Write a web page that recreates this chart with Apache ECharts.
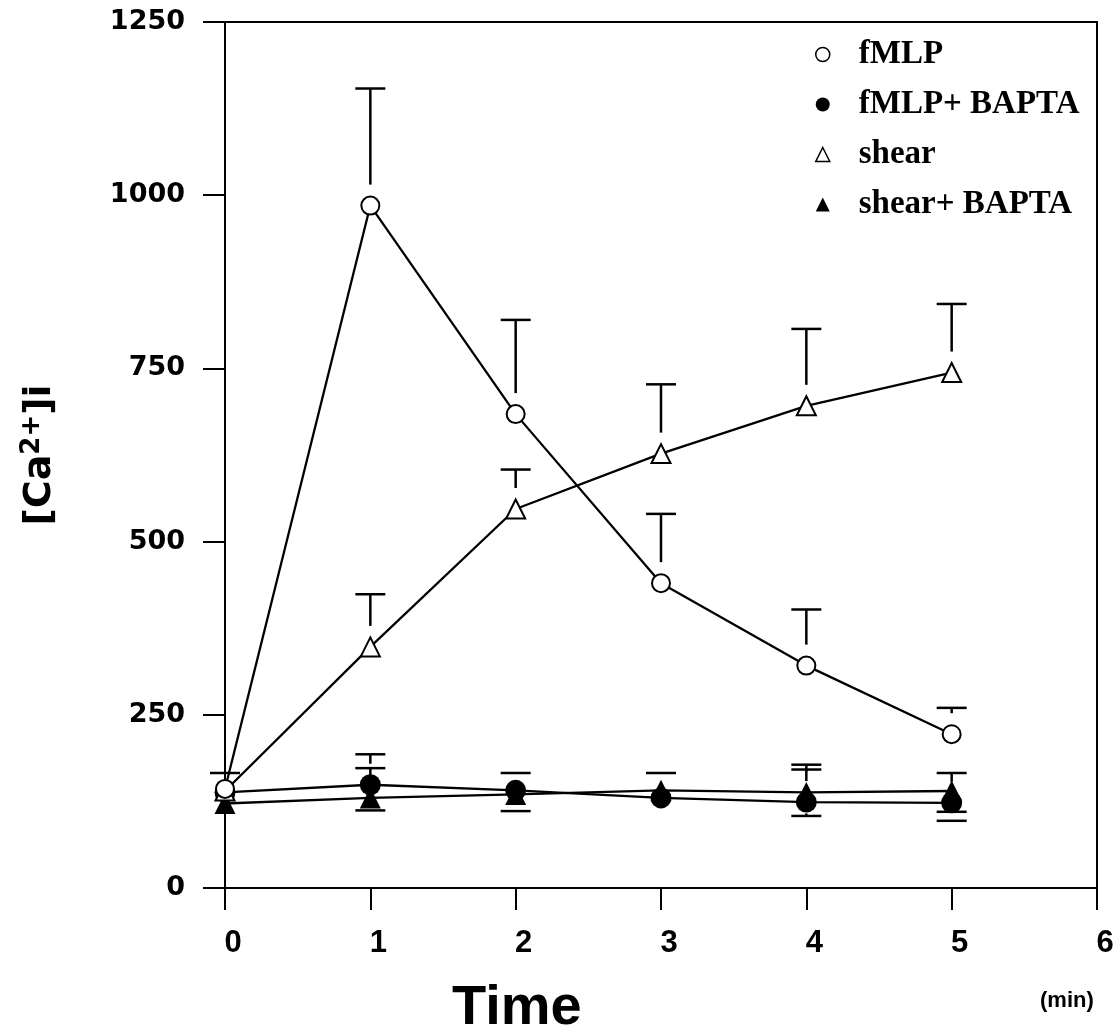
<!DOCTYPE html>
<html>
<head>
<meta charset="utf-8">
<script src="https://cdn.jsdelivr.net/npm/echarts@6/dist/echarts.min.js"></script>
<style>html,body{margin:0;padding:0;background:#fff}#chart{width:1120px;height:1033px}</style>
</head>
<body>
<div id="chart"></div>
<script>
// ---- data ----
const time = [0, 1, 2, 3, 4, 5];
const xTicks = [0, 1, 2, 3, 4, 5, 6];
const yTicks = [0, 250, 500, 750, 1000, 1250];
const fmlp = [143, 985, 684, 440, 321, 222];
const fmlpErrTop = [166, 1154, 820, 540, 402, 260];
const fmlpBapta = [138, 149, 141, 130, 124, 123];
const fmlpBaptaErrTop = [null, 193, 166, null, 178, 166];
const fmlpBaptaErrBot = [null, null, null, null, null, 97];
const shear = [140, 348, 547, 627, 696, 744];
const shearErrTop = [null, 424, 604, 727, 807, 843];
const shearBapta = [122, 130, 135, 141, 138, 140];
const shearBaptaErrTop = [null, 173, null, 166, 171, null];
const shearBaptaErrBot = [null, 112, 111, null, 104, 110];
const seriesNames = ['fMLP', 'fMLP+ BAPTA', 'shear', 'shear+ BAPTA'];

// ---- build ----
function pairs(vals) { return time.map((t, i) => [t, vals[i]]); }
function caps(vals, ...capArrs) {
  const out = [];
  capArrs.forEach(arr => arr.forEach((c, i) => { if (c != null) out.push([time[i], vals[i], c]); }));
  return out;
}
const errData = [].concat(
  caps(fmlp, fmlpErrTop),
  caps(fmlpBapta, fmlpBaptaErrTop, fmlpBaptaErrBot),
  caps(shear, shearErrTop),
  caps(shearBapta, shearBaptaErrTop, shearBaptaErrBot)
);

const chart = echarts.init(document.getElementById('chart'), null, {renderer: 'canvas'});
const boldSans = 'DejaVu Sans';
const sans = '"Liberation Sans", Arial, sans-serif';
const lineStyle = {color: '#000', width: 2.3};

const option = {
  backgroundColor: '#fff',
  animation: false,
  grid: {left: 225, right: 23, top: 22, bottom: 145, show: true, borderColor: '#000', borderWidth: 2, backgroundColor: 'transparent'},
  xAxis: {
    type: 'value', min: 0, max: 6, interval: 1,
    axisLine: {show: true, onZero: false, lineStyle: {color: '#000', width: 2}},
    axisTick: {show: true, length: 22, lineStyle: {color: '#000', width: 2}},
    splitLine: {show: false},
    axisLabel: {margin: 40, color: '#000', fontFamily: sans, fontWeight: 'bold', fontSize: 31,
      padding: [0, 0, 0, 16],
      formatter: v => xTicks.includes(v) ? String(v) : ''}
  },
  yAxis: {
    type: 'value', min: 0, max: 1250, interval: 250,
    axisLine: {show: true, onZero: false, lineStyle: {color: '#000', width: 2}},
    axisTick: {show: true, length: 22, lineStyle: {color: '#000', width: 2}},
    splitLine: {show: false},
    axisLabel: {margin: 40, color: '#000', fontFamily: boldSans, fontWeight: 'bold', fontSize: 27,
      formatter: v => yTicks.includes(v) ? String(v) : ''},
    name: '[Ca{sup|2+}]i',
    nameLocation: 'middle', nameRotate: 90, nameGap: 164,
    nameTextStyle: {color: '#000', fontFamily: boldSans, fontWeight: 'bold', fontSize: 38,
      rich: {sup: {fontFamily: boldSans, fontWeight: 'bold', fontSize: 26, verticalAlign: 'top', padding: [0, 0, 16, 0], color: '#000'}}}
  },
  legend: {
    orient: 'vertical', left: 810, top: 33, itemGap: 17, itemWidth: 14, itemHeight: 14,
    textStyle: {fontFamily: 'Liberation Serif', fontWeight: 'bold', fontSize: 33, color: '#000', padding: [0, 0, 0, 24]},
    data: [
      {name: seriesNames[0], icon: 'circle', itemStyle: {color: '#fff', borderColor: '#000', borderWidth: 1.5}},
      {name: seriesNames[1], icon: 'circle', itemStyle: {color: '#000', borderColor: '#000', borderWidth: 0}},
      {name: seriesNames[2], icon: 'triangle', itemStyle: {color: '#fff', borderColor: '#000', borderWidth: 1.5}},
      {name: seriesNames[3], icon: 'triangle', itemStyle: {color: '#000', borderColor: '#000', borderWidth: 0}}
    ]
  },
  graphic: [
    {type: 'text', left: 452, top: 981, style: {text: 'Time', fontFamily: sans, fontWeight: 'bold', fontSize: 56, fill: '#000'}},
    {type: 'text', left: 1040, top: 990, style: {text: '(min)', fontFamily: sans, fontWeight: 'bold', fontSize: 22, fill: '#000'}}
  ],
  series: [
    {
      type: 'custom', name: 'err', silent: true, z: 1,
      data: errData,
      encode: {x: 0, y: [1, 2]},
      renderItem: function (params, api) {
        const p = api.coord([api.value(0), api.value(1)]);
        const c = api.coord([api.value(0), api.value(2)]);
        const up = c[1] < p[1];
        const gap = 21;
        const children = [{type: 'line', shape: {x1: c[0] - 15, y1: c[1], x2: c[0] + 15, y2: c[1]}, style: {stroke: '#000', lineWidth: 2.5}}];
        const end = up ? p[1] - gap : p[1] + gap;
        if ((up && end > c[1]) || (!up && end < c[1])) {
          children.push({type: 'line', shape: {x1: c[0], y1: c[1], x2: c[0], y2: end}, style: {stroke: '#000', lineWidth: 2.5}});
        }
        return {type: 'group', children: children};
      }
    },
    {name: seriesNames[1], type: 'line', data: pairs(fmlpBapta), symbol: 'circle', symbolSize: 21, z: 3,
      lineStyle: lineStyle, itemStyle: {color: '#000', borderColor: '#000', borderWidth: 0}},
    {name: seriesNames[3], type: 'line', data: pairs(shearBapta), symbol: 'triangle', symbolSize: 21, z: 3,
      lineStyle: lineStyle, itemStyle: {color: '#000', borderColor: '#000', borderWidth: 0}},
    {name: seriesNames[2], type: 'line', data: pairs(shear), symbol: 'triangle', symbolSize: 19, z: 4,
      lineStyle: lineStyle, itemStyle: {color: '#fff', borderColor: '#000', borderWidth: 2}},
    {name: seriesNames[0], type: 'line', data: pairs(fmlp), symbol: 'circle', symbolSize: 18, z: 5,
      lineStyle: lineStyle, itemStyle: {color: '#fff', borderColor: '#000', borderWidth: 2}}
  ]
};
chart.setOption(option);
</script>
</body>
</html>
